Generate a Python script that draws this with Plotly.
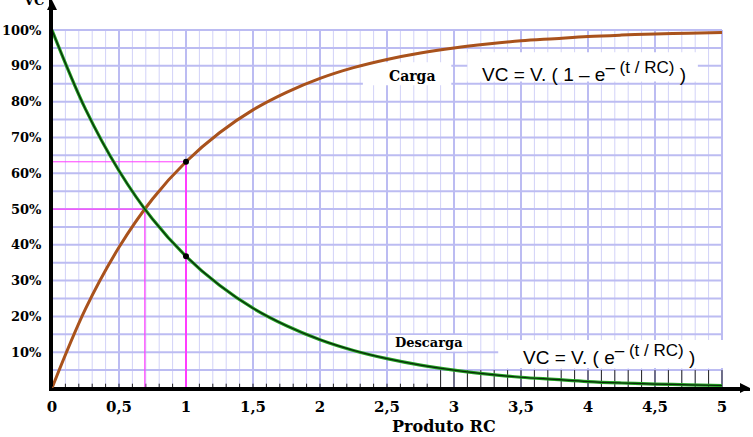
import plotly.graph_objects as go

# ---- data ----
rc = [0, 0.25, 0.5, 0.75, 1.0, 1.25, 1.5, 1.75, 2.0, 2.25, 2.5, 2.75, 3.0,
      3.25, 3.5, 3.75, 4.0, 4.25, 4.5, 4.75, 5.0]
carga = [0, 22.1, 39.3, 52.8, 63.2, 71.3, 77.7, 82.6, 86.5, 89.5, 91.8, 93.6,
         95.0, 96.1, 97.0, 97.6, 98.2, 98.6, 98.9, 99.1, 99.3]
descarga = [100, 77.9, 60.7, 47.2, 36.8, 28.7, 22.3, 17.4, 13.5, 10.5, 8.2,
            6.4, 5.0, 3.9, 3.0, 2.4, 1.8, 1.4, 1.1, 0.9, 0.7]
tau_x, tau_carga, tau_descarga = 1.0, 63.2, 36.8
half_x, half_y = 0.693, 50.0

x_tickvals = [0, 0.5, 1, 1.5, 2, 2.5, 3, 3.5, 4, 4.5, 5]
x_ticktext = ["0", "0,5", "1", "1,5", "2", "2,5", "3", "3,5", "4", "4,5", "5"]
y_tickvals = [10, 20, 30, 40, 50, 60, 70, 80, 90, 100]
y_ticktext = ["10%", "20%", "30%", "40%", "50%", "60%", "70%", "80%", "90%", "100%"]

XMAX, YMAX = 5.209, 108.4
GRID_MINOR = "#d2d2f8"
GRID_MAJOR = "#bcbcf2"
BROWN = "#a9521c"
GREEN = "#22a022"
MAGENTA = "#ff3cff"
SERIF = "DejaVu Serif"

fig = go.Figure()

shapes = []
# grid
for i in range(1, 51):
    xv = i / 10
    major = (i % 5 == 0)
    shapes.append(dict(type="line", xref="x", yref="y", x0=xv, x1=xv, y0=0, y1=100,
                       line=dict(color=GRID_MAJOR if major else GRID_MINOR,
                                 width=2 if major else 1), layer="below"))
for j in range(1, 21):
    yv = 5 * j
    shapes.append(dict(type="line", xref="x", yref="y", x0=0, x1=5, y0=yv, y1=yv,
                       line=dict(color=GRID_MAJOR, width=2), layer="below"))
# small ticks on x axis and dark lines in the lowest band
for i in range(1, 51):
    xv = i / 10
    top = 5 if xv >= 2.85 else 1.2
    shapes.append(dict(type="line", xref="x", yref="y", x0=xv, x1=xv, y0=0, y1=top,
                       line=dict(color="#222222", width=1), layer="below"))
# white label boxes
for (x0, x1, y0, y1) in [(2.32, 2.98, 84.6, 91.0), (3.10, 4.82, 85.6, 93.8),
                         (2.52, 3.10, 10.2, 14.8), (3.33, 5.02, 5.6, 13.4)]:
    shapes.append(dict(type="rect", xref="x", yref="y", x0=x0, x1=x1, y0=y0, y1=y1,
                       fillcolor="white", line=dict(width=0), layer="below"))

# magenta guide lines
fig.add_trace(go.Scatter(x=[0, half_x, half_x], y=[half_y, half_y, 0], mode="lines",
                         line=dict(color=MAGENTA, width=1.2), hoverinfo="skip"))
fig.add_trace(go.Scatter(x=[0, tau_x], y=[tau_carga, tau_carga], mode="lines",
                         line=dict(color=MAGENTA, width=1), hoverinfo="skip"))
fig.add_trace(go.Scatter(x=[tau_x, tau_x], y=[tau_carga, 0], mode="lines",
                         line=dict(color=MAGENTA, width=2), hoverinfo="skip"))

# curves
fig.add_trace(go.Scatter(x=rc, y=carga, mode="lines", line=dict(color=BROWN, width=3, shape="spline")))
fig.add_trace(go.Scatter(x=rc, y=descarga, mode="lines", line=dict(color=GREEN, width=3.2, shape="spline")))
fig.add_trace(go.Scatter(x=rc, y=descarga, mode="lines", line=dict(color="#0a2a0a", width=1.2, shape="spline")))
fig.add_trace(go.Scatter(x=[tau_x, tau_x], y=[tau_carga, tau_descarga], mode="markers",
                         marker=dict(color="black", size=6)))

lab_font = dict(family=SERIF, size=13, color="black", weight="bold")
form_font = dict(family="Liberation Sans", size=19, color="black")
SUP = "<sup><span style='font-size:17px'>\u2013 (t / RC)</span></sup>"
annotations = [
    dict(x=2.69, y=87.3, text="Carga", font=dict(family=SERIF, size=14, color="black", weight="bold")),
    dict(x=2.81, y=12.6, text="Descarga", font=lab_font),
    dict(x=3.97, y=88.5, text="VC = V. ( 1 \u2013 e" + SUP + " )", font=form_font),
    dict(x=4.16, y=9.3, text="VC = V. ( e" + SUP + " )", font=form_font),
    # axis arrows
    dict(x=XMAX, y=0, ax=0, ay=0, axref="x", ayref="y", showarrow=True, arrowhead=2,
         arrowsize=1, arrowwidth=2, arrowcolor="black", text=""),
    dict(x=0, y=YMAX, ax=0, ay=0, axref="x", ayref="y", showarrow=True, arrowhead=2,
         arrowsize=1, arrowwidth=2, arrowcolor="black", text=""),
    dict(xref="paper", yref="paper", x=-0.027, xanchor="center", y=0.998, yanchor="middle",
         text="VC", font=dict(family=SERIF, size=13, color="black", weight="bold")),
    dict(xref="paper", yref="paper", x=0.562, xanchor="center", y=-0.1, yanchor="middle",
         text="Produto RC", font=dict(family=SERIF, size=16, color="black", weight="bold")),
]
for a in annotations:
    a.setdefault("showarrow", False)
    a.setdefault("xref", "x")
    a.setdefault("yref", "y")

fig.update_layout(
    width=753, height=437,
    margin=dict(l=52, r=3, t=0, b=49),
    paper_bgcolor="white", plot_bgcolor="white",
    showlegend=False,
    shapes=shapes,
    annotations=annotations,
    xaxis=dict(range=[0, XMAX], showgrid=False, zeroline=False, showline=True,
               linecolor="black", linewidth=2.5, tickvals=x_tickvals, ticktext=x_ticktext,
               ticks="", tickfont=dict(family=SERIF, size=15, color="black", weight="bold"),
               ticklabelstandoff=3),
    yaxis=dict(range=[0, YMAX], showgrid=False, zeroline=False, showline=True,
               linecolor="black", linewidth=3, tickvals=y_tickvals, ticktext=y_ticktext,
               ticks="", tickfont=dict(family=SERIF, size=13, color="black", weight="bold"),
               ticklabelstandoff=5),
)

fig.write_html("out.html")
